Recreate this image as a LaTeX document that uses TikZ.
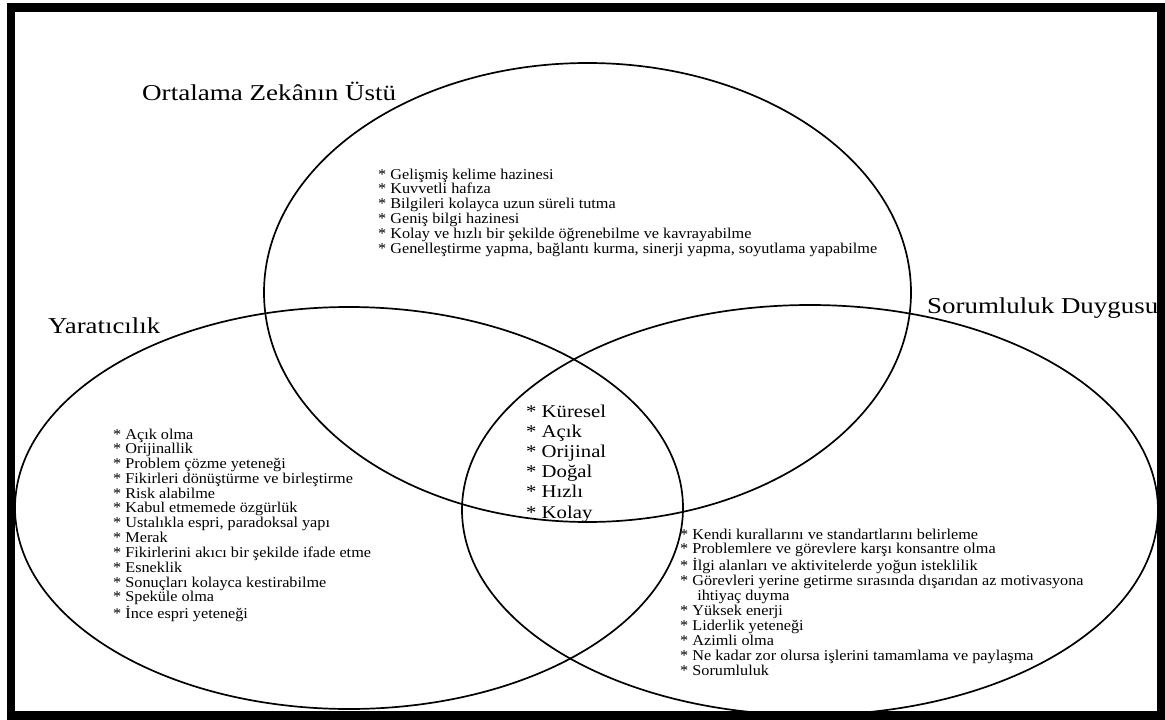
\documentclass[tikz,border=0pt]{standalone}
\usepackage{fontspec}
\setmainfont{Liberation Serif}
\usepackage{graphicx}
\newlength\refw
\newcommand\bul{{*}}
\newcommand\blk[3]{\scalebox{\myfac}[1]{\fontsize{#1}{#2}\selectfont\begin{tabular}[t]{@{}l@{}}#3\end{tabular}}}
\newcommand\ttl[2]{\resizebox{#1pt}{\height}{\fontsize{22.7}{26}\selectfont #2}}
\tikzset{
  txt/.style={anchor=base west, inner sep=0pt},
  venn/.style={draw=black, line width=1.7pt}
}
\begin{document}
\settowidth\refw{\fontsize{15}{14.6}\selectfont * Genelleştirme yapma, bağlantı kurma, sinerji yapma, soyutlama yapabilme}%
\pgfmathsetmacro\myfac{499/\refw}%
\begin{tikzpicture}[x=1pt,y=-1pt]
\useasboundingbox (0,0) rectangle (1165,720);
% frame
\fill[black] (7,3) rectangle (1165,720);
\fill[white] (15,12) rectangle (1157,711);
% ellipses
\draw[venn] (587.5,292.5) ellipse [x radius=323.5pt, y radius=229.5pt];
\draw[venn] (349,508) ellipse [x radius=334pt, y radius=201pt];
\draw[venn] (810,510) ellipse [x radius=348pt, y radius=205pt];
% titles
\node[txt] (t1) at (142,100) {\ttl{254}{Ortalama Zekânın Üstü}};
\node[txt] (t2) at (48,333) {\ttl{112}{Yaratıcılık}};
\node[txt] (t3) at (927,313) {\ttl{231}{Sorumluluk Duygusu}};
% top block
\node[txt] (b1) at (378,179) {\blk{15}{14.6}{%
\bul{} Gelişmiş kelime hazinesi\\
\bul{} Kuvvetli hafıza\\
\bul{} Bilgileri kolayca uzun süreli tutma\\
\bul{} Geniş bilgi hazinesi\\
\bul{} Kolay ve hızlı bir şekilde öğrenebilme ve kavrayabilme\\
\bul{} Genelleştirme yapma, bağlantı kurma, sinerji yapma, soyutlama yapabilme}};
% left block
\node[txt] (b2) at (113,439) {\blk{15}{14.6}{%
\bul{} Açık olma\\
\bul{} Orijinallik\\
\bul{} Problem çözme yeteneği\\
\bul{} Fikirleri dönüştürme ve birleştirme\\
\bul{} Risk alabilme\\
\bul{} Kabul etmemede özgürlük\\
\bul{} Ustalıkla espri, paradoksal yapı\\
\bul{} Merak\\
\bul{} Fikirlerini akıcı bir şekilde ifade etme\\
\bul{} Esneklik\\
\bul{} Sonuçları kolayca kestirabilme\\
\bul{} Speküle olma\\
\bul{} İnce espri yeteneği}};
% right block
\node[txt] (b3) at (680,539) {\blk{15}{14.9}{%
\bul{} Kendi kurallarını ve standartlarını belirleme\\
\bul{} Problemlere ve görevlere karşı konsantre olma\\
\bul{} İlgi alanları ve aktivitelerde yoğun isteklilik\\
\bul{} Görevleri yerine getirme sırasında dışarıdan az motivasyona\\
\hspace*{1.05em}ihtiyaç duyma\\
\bul{} Yüksek enerji\\
\bul{} Liderlik yeteneği\\
\bul{} Azimli olma\\
\bul{} Ne kadar zor olursa işlerini tamamlama ve paylaşma\\
\bul{} Sorumluluk}};
% center block
\node[txt] (b4) at (526,417) {\resizebox{80pt}{\height}{\fontsize{18}{20.2}\selectfont\begin{tabular}[t]{@{}l@{}}%
\bul{} Küresel\\
\bul{} Açık\\
\bul{} Orijinal\\
\bul{} Doğal\\
\bul{} Hızlı\\
\bul{} Kolay\end{tabular}}};
\end{tikzpicture}
\end{document}
